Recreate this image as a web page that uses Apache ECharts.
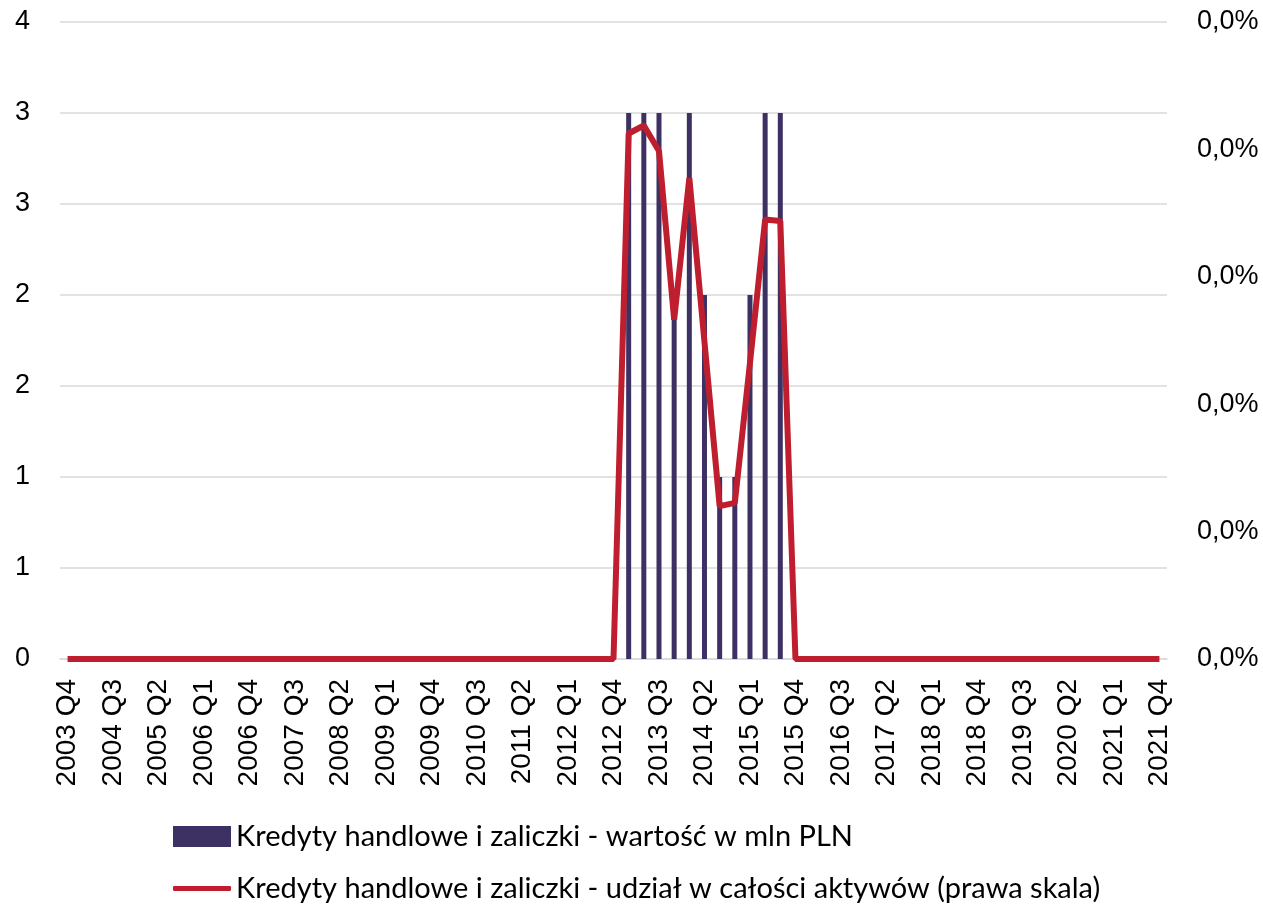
<!DOCTYPE html>
<html>
<head>
<meta charset="utf-8">
<script src="https://cdn.jsdelivr.net/npm/echarts@6/dist/echarts.min.js"></script>
<style>
  html, body { margin: 0; padding: 0; background: #fff; }
  #chart { width: 1263px; height: 904px; }
</style>
</head>
<body>
<div id="chart"></div>
<script>
// kwartały 2003 Q4 .. 2021 Q4
const quarters = []
for (let y = 2003; y <= 2021; y++) {
  for (let q = 1; q <= 4; q++) {
    if (y === 2003 && q < 4) continue
    quarters.push(y + ' Q' + q)
  }
}

// wartość w mln PLN (lewa skala)
const loanValues = [
  0, 0, 0, 0, 0, 0, 0, 0, 0, 0, 0, 0, 0, 0, 0, 0, 0, 0, 0, 0,
  0, 0, 0, 0, 0, 0, 0, 0, 0, 0, 0, 0, 0, 0, 0, 0, 0,
  3, 3, 3, 1.87, 3, 2, 1, 1, 2, 3, 3,
  0, 0, 0, 0, 0, 0, 0, 0, 0, 0, 0, 0, 0, 0, 0, 0, 0, 0, 0, 0,
  0, 0, 0, 0, 0
]

// udział w całości aktywów (prawa skala)
const loanShare = [
  0, 0, 0, 0, 0, 0, 0, 0, 0, 0, 0, 0, 0, 0, 0, 0, 0, 0, 0, 0,
  0, 0, 0, 0, 0, 0, 0, 0, 0, 0, 0, 0, 0, 0, 0, 0, 0,
  0.000330, 0.000335, 0.000319, 0.000213, 0.000302, 0.000199, 0.000096, 0.000098, 0.000186, 0.000276, 0.000275,
  0, 0, 0, 0, 0, 0, 0, 0, 0, 0, 0, 0, 0, 0, 0, 0, 0, 0, 0, 0,
  0, 0, 0, 0, 0
]

const seriesNames = [
  'Kredyty handlowe i zaliczki - wartość w mln PLN',
  'Kredyty handlowe i zaliczki - udział w całości aktywów (prawa skala)'
]

const axisFont = 'Liberation Sans'
const legendText = { fontFamily: 'Lato', fontSize: 29, color: '#000' }
const myChart = echarts.init(document.getElementById('chart'))

myChart.setOption({
  animation: false,
  grid: { left: 60, right: 96, top: 22, bottom: 245 },
  legend: [
    {
      left: 168,
      top: 817,
      itemWidth: 58,
      itemHeight: 21,
      icon: 'rect',
      textStyle: legendText,
      data: [seriesNames[0]]
    },
    {
      left: 168,
      top: 869,
      itemWidth: 58,
      itemHeight: 5,
      icon: 'roundRect',
      textStyle: legendText,
      data: [seriesNames[1]]
    }
  ],
  xAxis: {
    type: 'category',
    data: quarters,
    boundaryGap: true,
    axisLine: { lineStyle: { color: '#d9d9d9', width: 1.5 } },
    axisTick: { show: false },
    axisLabel: {
      interval: 2,
      rotate: 90,
      margin: 20,
      fontFamily: axisFont,
      fontSize: 28,
      color: '#000'
    }
  },
  yAxis: [
    {
      type: 'value',
      min: 0,
      max: 3.5,
      interval: 0.5,
      axisLine: { show: false },
      axisTick: { show: false },
      splitLine: { lineStyle: { color: '#d9d9d9', width: 1.5 } },
      axisLabel: {
        margin: 30,
        fontFamily: axisFont,
        fontSize: 27,
        color: '#000',
        formatter: v => String(Math.round(v))
      }
    },
    {
      type: 'value',
      min: 0,
      max: 0.0004,
      interval: 0.00008,
      axisLine: { show: false },
      axisTick: { show: false },
      splitLine: { show: false },
      axisLabel: {
        margin: 30,
        fontFamily: axisFont,
        fontSize: 27,
        color: '#000',
        formatter: v => (v * 100).toFixed(1).replace('.', ',') + '%'
      }
    }
  ],
  series: [
    {
      name: seriesNames[0],
      type: 'bar',
      data: loanValues,
      barWidth: 5,
      itemStyle: { color: '#3c3162' }
    },
    {
      name: seriesNames[1],
      type: 'line',
      yAxisIndex: 1,
      data: loanShare,
      symbol: 'none',
      lineStyle: { color: '#be1e2d', width: 6 },
      itemStyle: { color: '#be1e2d' }
    }
  ]
})
</script>
</body>
</html>
